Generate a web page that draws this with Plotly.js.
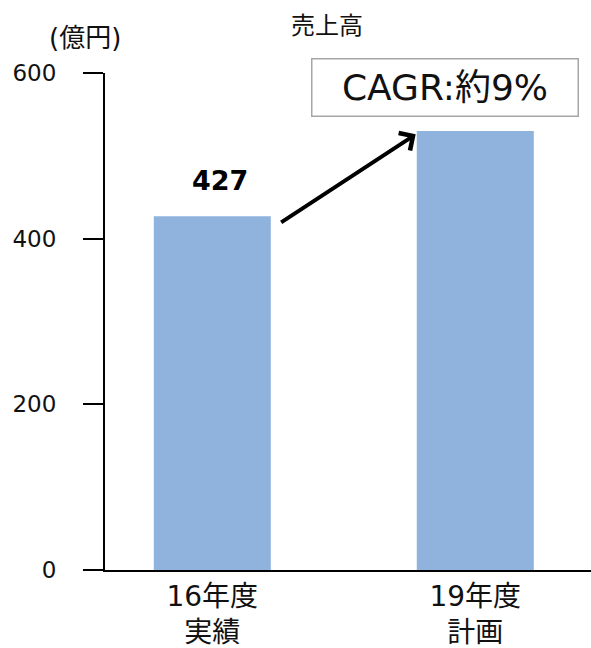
<!DOCTYPE html>
<html>
<head>
<meta charset="utf-8">
<script src="https://cdn.plot.ly/plotly-3.0.1.min.js"></script>
<style>html,body{margin:0;padding:0;background:#fff;}#chart{width:591px;height:648px;}</style>
</head>
<body>
<div id="chart"></div>
<script>
const categories = ['16年度<br>実績', '19年度<br>計画'];
const sales = [427, 530];
const yTicks = [0, 200, 400, 600];
const chartTitle = '売上高';
const unitLabel = '(億円)';
const cagrLabel = 'CAGR:約9%';

const FONT = 'DejaVu Sans, Noto Sans CJK JP, sans-serif';

const trace = {
  type: 'bar',
  x: categories,
  y: sales,
  marker: {color: '#8fb3dd'},
  width: 0.445,
  hoverinfo: 'none'
};

// plot area: left 105, right 591, top 73, bottom 570
const px = v => (v - 105) / 486;
const py = v => (570 - v) / 497;

const layout = {
  width: 591, height: 648,
  margin: {l: 105, r: 0, t: 73, b: 78},
  paper_bgcolor: '#fff', plot_bgcolor: '#fff',
  showlegend: false,
  font: {family: FONT, color: '#111'},
  title: {text: chartTitle, font: {size: 24, family: FONT, color: '#111'},
          x: 327/591, xanchor: 'center', y: 1 - 26/648, yanchor: 'middle'},
  xaxis: {
    type: 'category', range: [-0.408, 1.44],
    showline: true, linecolor: '#000', linewidth: 2,
    ticks: '', showgrid: false, zeroline: false,
    tickfont: {size: 28, family: FONT, color: '#111'},
    fixedrange: true
  },
  yaxis: {
    range: [0, 600], tickvals: yTicks,
    showline: true, linecolor: '#000', linewidth: 2,
    ticks: 'outside', ticklen: 20, tickwidth: 2, tickcolor: '#000',
    showgrid: false, zeroline: false,
    tickfont: {size: 23, family: FONT, color: '#111'},
    ticklabelstandoff: 22,
    fixedrange: true
  },
  annotations: [
    {xref: 'paper', yref: 'paper', x: px(85), y: py(38), text: unitLabel,
     showarrow: false, xanchor: 'center', yanchor: 'middle',
     font: {size: 26, family: FONT, color: '#111'}},
    {xref: 'x', yref: 'y', x: 0, y: sales[0], text: '<b>' + sales[0] + '</b>',
     showarrow: false, xanchor: 'center', yanchor: 'middle', xshift: 8, yshift: 36,
     font: {size: 27, family: FONT, color: '#000'}},
    {xref: 'paper', yref: 'paper', x: px(445), y: py(88), text: cagrLabel,
     showarrow: false, xanchor: 'center', yanchor: 'middle',
     width: 265, height: 56, borderpad: 0,
     bordercolor: '#a6a6a6', borderwidth: 1.5, bgcolor: '#fff',
     font: {size: 36, family: FONT, color: '#111'}},
    {xref: 'x', yref: 'y', x: 0.7734, y: 526, text: '',
     showarrow: true, arrowhead: 4, arrowsize: 1, arrowwidth: 4, arrowcolor: '#000',
     ax: -136, ay: 89, standoff: 0}
  ]
};

Plotly.newPlot('chart', [trace], layout, {displayModeBar: false, staticPlot: true});
</script>
</body>
</html>
